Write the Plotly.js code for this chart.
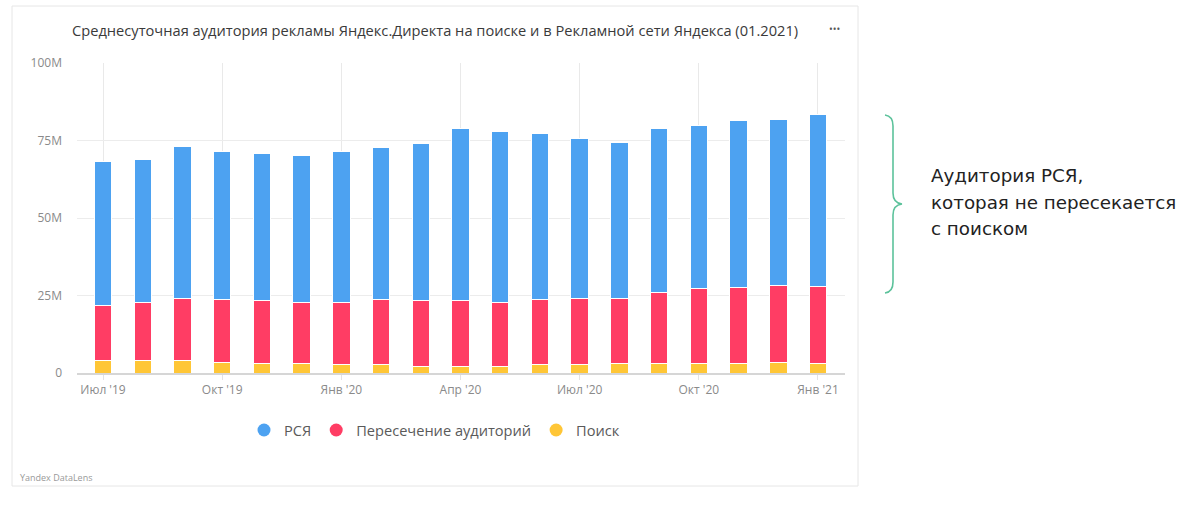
<!DOCTYPE html>
<html><head><meta charset="utf-8">
<script src="https://cdn.plot.ly/plotly-3.0.1.min.js"></script>
<style>html,body{margin:0;padding:0;background:#fff;}#chart{width:1200px;height:507px;}</style>
</head><body><div id="chart"></div>
<script>
// Months (Jul 2019 – Jan 2021)
const months = ['2019-07','2019-08','2019-09','2019-10','2019-11','2019-12','2020-01','2020-02','2020-03','2020-04','2020-05','2020-06','2020-07','2020-08','2020-09','2020-10','2020-11','2020-12','2021-01'];
// Values in millions
const search   = [4.1,4.1,4.1,3.3,3.0,3.0,2.6,2.6,2.2,2.0,2.0,2.6,2.6,3.0,3.0,3.0,3.0,3.3,3.0];
const overlap  = [17.8,18.5,20.0,20.4,20.3,19.9,20.0,21.2,21.1,21.3,20.8,21.2,21.5,21.1,22.9,24.1,24.5,25.0,25.0];
const rsya     = [46.3,46.3,49.1,47.9,47.6,47.3,48.7,49.0,50.7,55.5,55.1,53.6,51.7,50.2,52.9,52.6,54.0,53.6,55.3];
const xTickVals = ['2019-07','2019-10','2020-01','2020-04','2020-07','2020-10','2021-01'];
const xTickText = ["Июл '19","Окт '19","Янв '20","Апр '20","Июл '20","Окт '20","Янв '21"];
const yTickVals = [0,25,50,75,100];
const yTickText = ['0','25M','50M','75M','100M'];
const seriesNames = ['Поиск','Пересечение аудиторий','РСЯ'];
const seriesColors = ['#FFC636','#FF3D64','#4DA2F1'];
const titleText = 'Среднесуточная аудитория рекламы Яндекс.Директа на поиске и в Рекламной сети Яндекса (01.2021)';
const noteLines = ['Аудитория РСЯ,','которая не пересекается','с поиском'];

const L=77,R=845,T=63,B=373;
const px = x => (x-L)/(R-L);
const py = y => (B-y)/(B-T);

const seriesData = [search, overlap, rsya];
const traces = [];
seriesData.forEach((vals,i)=>{
  traces.push({type:'bar', x:months, y:vals, name:seriesNames[i], showlegend:false,
    marker:{color:seriesColors[i], line:{color:'#fff', width:1}}, hoverinfo:'skip'});
});
// legend entries with round markers, order РСЯ, Пересечение, Поиск
[2,1,0].forEach(i=>{
  traces.push({type:'scatter', mode:'markers', x:[null], y:[null], name:seriesNames[i],
    marker:{color:seriesColors[i], size:13, symbol:'circle'}, showlegend:true});
});

const bracePath = (()=>{
  const p = (x,y)=> px(x).toFixed(5)+','+py(y).toFixed(5);
  return 'M'+p(885,115)+' Q'+p(893,116)+' '+p(893,126)+' L'+p(893,193)+' Q'+p(893,203)+' '+p(902,204)+
         ' Q'+p(893,205)+' '+p(893,215)+' L'+p(893,282)+' Q'+p(893,292)+' '+p(885,293);
})();

const layout = {
  width:1200, height:507,
  margin:{l:L, r:1200-R, t:T, b:507-B},
  paper_bgcolor:'#fff', plot_bgcolor:'#fff',
  font:{family:'Open Sans, sans-serif', color:'#555'},
  barmode:'stack', bargap:0.56,
  xaxis:{type:'category', range:[-0.655,18.68], tickvals:xTickVals, ticktext:xTickText,
    showgrid:true, gridcolor:'#e9e9e9', gridwidth:1, ticks:'outside', ticklen:5, tickcolor:'#e3e3e3',
    showline:true, linecolor:'#d6d6d6', linewidth:1.5, tickfont:{size:12, color:'#8a8a8a'}, fixedrange:true},
  yaxis:{range:[0,100], tickvals:yTickVals, ticktext:yTickText, showgrid:true, gridcolor:'#ececec',
    zeroline:false, ticklabelstandoff:14, tickfont:{size:12, color:'#8a8a8a'}, fixedrange:true},
  legend:{orientation:'h', traceorder:'normal', x:px(244), xanchor:'left', y:py(430), yanchor:'middle',
    font:{size:14.6, color:'#5a5a5a'}, bgcolor:'rgba(0,0,0,0)'},
  shapes:[
    {type:'rect', xref:'paper', yref:'paper', x0:px(12), x1:px(858), y0:py(486), y1:py(6),
      line:{color:'#e6e6e6', width:1}, fillcolor:'rgba(0,0,0,0)', layer:'below'},
    {type:'path', xref:'paper', yref:'paper', path:bracePath, line:{color:'#5cc29b', width:1.6}}
  ],
  annotations:[
    {xref:'paper', yref:'paper', x:px(70), y:py(30), xanchor:'left', yanchor:'middle', showarrow:false,
      text:titleText, font:{size:14.65, color:'#3a3a3a', family:'Open Sans, sans-serif'}},
    {xref:'paper', yref:'paper', x:px(834), y:py(29), xanchor:'center', yanchor:'middle', showarrow:false,
      text:'•••', font:{size:10, color:'#555'}},
    {xref:'paper', yref:'paper', x:px(18), y:py(477), xanchor:'left', yanchor:'middle', showarrow:false,
      text:'Yandex DataLens', font:{size:9, color:'#999'}},
  ].concat(noteLines.map((t,i)=>({xref:'paper', yref:'paper', x:px(929), y:py(175+27*i), xanchor:'left', yanchor:'middle',
      showarrow:false, text:t, font:{size:18.3, color:'#222', family:'DejaVu Sans, sans-serif'}})))
};
Plotly.newPlot('chart', traces, layout, {displayModeBar:false, staticPlot:true});
</script></body></html>
